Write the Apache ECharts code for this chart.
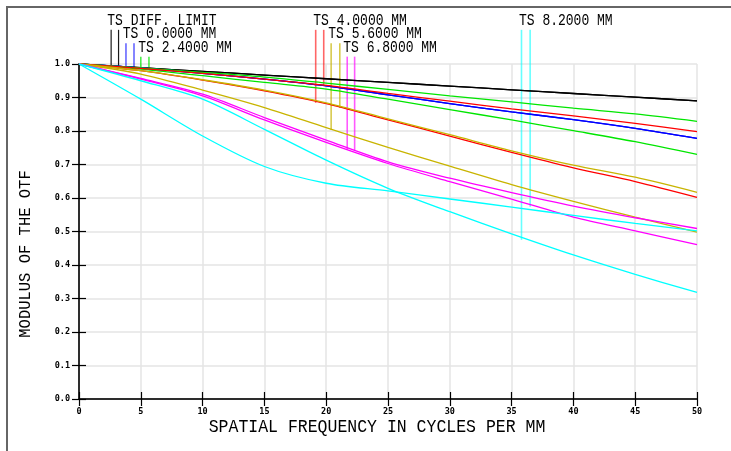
<!DOCTYPE html>
<html>
<head>
<meta charset="utf-8">
<script src="https://cdn.jsdelivr.net/npm/echarts@6/dist/echarts.min.js"></script>
<style>
html,body{margin:0;padding:0;background:#fff;}
#c{width:731px;height:451px;}
</style>
</head>
<body>
<div id="c"></div>
<script>
// ---- data ----
const freqs = [0, 5, 10, 15, 20, 25, 30, 35, 40, 45, 50];
const yTicks = [0, 0.1, 0.2, 0.3, 0.4, 0.5, 0.6, 0.7, 0.8, 0.9, 1.0];

const diffT = [1, 0.989, 0.978, 0.967, 0.956, 0.945, 0.934, 0.923, 0.912, 0.901, 0.890];
const diffS = [1, 0.989, 0.978, 0.967, 0.956, 0.945, 0.934, 0.923, 0.912, 0.901, 0.890];
const f00T = [1, 0.988, 0.972, 0.955, 0.935, 0.908, 0.882, 0.857, 0.834, 0.808, 0.778];
const f00S = [1, 0.988, 0.972, 0.955, 0.935, 0.908, 0.882, 0.857, 0.834, 0.808, 0.778];
const f24T = [1, 0.985, 0.965, 0.945, 0.925, 0.895, 0.864, 0.833, 0.801, 0.768, 0.730];
const f24S = [1, 0.988, 0.975, 0.961, 0.943, 0.924, 0.905, 0.887, 0.868, 0.851, 0.829];
const f40T = [1, 0.980, 0.952, 0.920, 0.882, 0.833, 0.785, 0.736, 0.690, 0.649, 0.602];
const f40S = [1, 0.987, 0.972, 0.955, 0.936, 0.912, 0.889, 0.866, 0.845, 0.823, 0.798];
const f56T = [1, 0.970, 0.922, 0.870, 0.810, 0.751, 0.695, 0.640, 0.590, 0.543, 0.498];
const f56S = [1, 0.980, 0.953, 0.922, 0.884, 0.836, 0.789, 0.741, 0.698, 0.662, 0.617];
const f68T = [1, 0.957, 0.910, 0.840, 0.773, 0.708, 0.659, 0.616, 0.576, 0.541, 0.509];
const f68S = [1, 0.955, 0.905, 0.833, 0.766, 0.703, 0.649, 0.597, 0.543, 0.502, 0.461];
const f82T = [1, 0.950, 0.895, 0.805, 0.713, 0.629, 0.559, 0.493, 0.430, 0.372, 0.318];
const f82S = [1, 0.895, 0.785, 0.694, 0.644, 0.621, 0.597, 0.573, 0.548, 0.524, 0.502];

const fieldLabels = ['TS DIFF. LIMIT', 'TS 0.0000 MM', 'TS 2.4000 MM', 'TS 4.0000 MM', 'TS 5.6000 MM', 'TS 6.8000 MM', 'TS 8.2000 MM'];
const fieldColors = ['#000000', '#0000ff', '#00e600', '#ff0000', '#c8b400', '#ff00ff', '#00ffff'];
const keyOpacity = [0.9, 0.6, 0.7, 0.6, 0.7, 0.65, 0.6];
const fieldCurves = [[diffT, diffS], [f00T, f00S], [f24T, f24S], [f40T, f40S], [f56T, f56S], [f68T, f68S], [f82T, f82S]];

// key marker lines: frequency, top value, end value (on the curve)
const keyX = [[2.6, 3.2], [3.8, 4.45], [5.0, 5.66], [19.15, 19.8], [20.4, 21.1], [21.7, 22.3], [35.8, 36.5]];
const keyTop = [1.102, 1.062, 1.022, 1.102, 1.062, 1.022, 1.102];
const keyEnd = [[0.994, 0.993], [0.991, 0.989], [0.99, 0.99], [0.884, 0.937], [0.803, 0.869], [0.745, 0.741], [0.475, 0.574]];

const xTitle = 'SPATIAL FREQUENCY IN CYCLES PER MM';
const yTitle = 'MODULUS OF THE OTF';

// ---- chart ----
const chart = echarts.init(document.getElementById('c'), null, {renderer: 'canvas'});

const series = [];
fieldCurves.forEach((pair, i) => {
  pair.forEach((vals, j) => {
    series.push({
      type: 'line',
      name: fieldLabels[i] + (j ? ' S' : ' T'),
      data: freqs.map((f, k) => [f, vals[k]]),
      showSymbol: false,
      smooth: 0.3,
      lineStyle: {color: fieldColors[i], width: 1.3},
      z: 3 + i,
      silent: true
    });
  });
});
keyX.forEach((xs, i) => {
  xs.forEach((x, j) => {
    series.push({
      type: 'line',
      data: [[x, keyTop[i]], [x, keyEnd[i][j]]],
      showSymbol: false,
      clip: false,
      lineStyle: {color: fieldColors[i], width: i === 0 ? 1.2 : 1.6, opacity: keyOpacity[i]},
      z: 2,
      silent: true
    });
  });
});

const tickFont = {fontFamily: '"DejaVu Sans Mono"', fontWeight: 'bold', fontSize: 8.5, color: '#000'};
const axisLineStyle = {lineStyle: {color: '#222', width: 1.5}};
const tickStyle = {inside: true, length: 7, lineStyle: {color: '#000', width: 1.2}};
const splitStyle = {show: true, lineStyle: {color: '#e4e4e4', width: 1.5}};

const labelGraphics = [];
const groupX = [107.3, 122.7, 138.3, 313.3, 328.3, 343.3, 519];
const rowY = [20.3, 33.8, 47.8, 20.3, 33.8, 47.8, 20.3];
fieldLabels.forEach((t, i) => {
  labelGraphics.push({
    type: 'text', x: groupX[i], y: rowY[i], scaleY: 1.25,
    style: {text: t, font: '13px "Liberation Mono"', fill: '#000', align: 'left', verticalAlign: 'middle'}
  });
});

chart.setOption({
  animation: false,
  backgroundColor: '#fff',
  grid: {left: 79, right: 34, top: 64, bottom: 52},
  xAxis: [
    {type: 'value', position: 'bottom', min: 0, max: 50, interval: 5,
     axisLine: axisLineStyle, axisTick: tickStyle, splitLine: splitStyle,
     axisLabel: Object.assign({margin: 8}, tickFont)},
    {type: 'value', position: 'top', min: 0, max: 50, interval: 5,
     axisLine: axisLineStyle, axisTick: tickStyle, splitLine: {show: false},
     axisLabel: {show: false}}
  ],
  yAxis: [
    {type: 'value', position: 'left', min: 0, max: 1, interval: 0.1,
     axisLine: axisLineStyle, axisTick: tickStyle, splitLine: splitStyle,
     axisLabel: Object.assign({margin: 9, formatter: v => v.toFixed(1)}, tickFont)},
    {type: 'value', position: 'right', min: 0, max: 1, interval: 0.1,
     axisLine: axisLineStyle, axisTick: tickStyle, splitLine: {show: false},
     axisLabel: {show: false}}
  ],
  series: series,
  graphic: [
    {type: 'rect', shape: {x: 7, y: 7, width: 800, height: 600}, style: {fill: 'none', stroke: '#666', lineWidth: 2}, silent: true},
    {type: 'text', x: 377, y: 427.5, scaleY: 1.08,
     style: {text: xTitle, font: '16.5px "Liberation Mono"', fill: '#000', align: 'center', verticalAlign: 'middle'}},
    {type: 'text', x: 26, y: 254, rotation: Math.PI / 2, scaleY: 1.08,
     style: {text: yTitle, font: '15.5px "Liberation Mono"', fill: '#000', align: 'center', verticalAlign: 'middle'}}
  ].concat(labelGraphics)
});
</script>
</body>
</html>
